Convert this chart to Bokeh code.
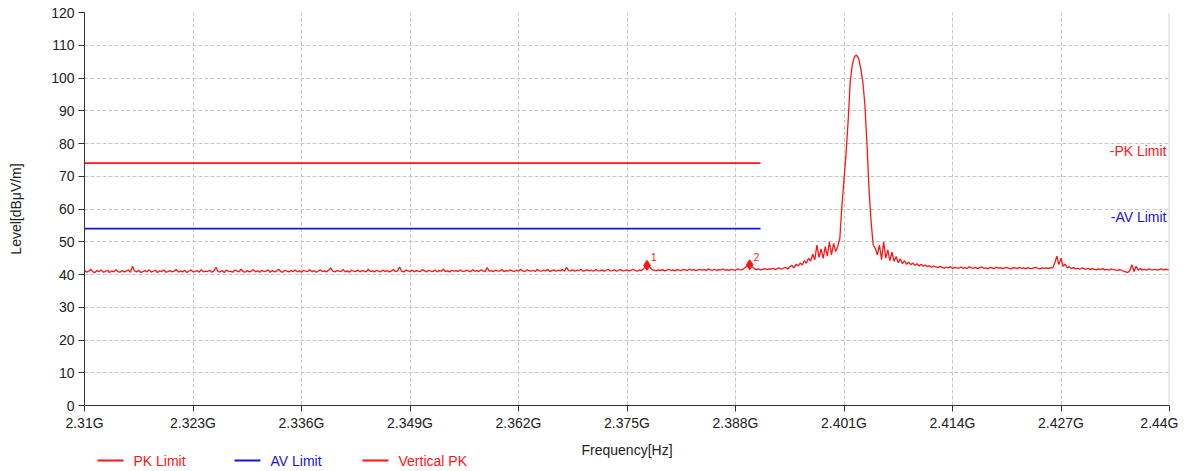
import numpy as np
from bokeh.plotting import figure
from bokeh.layouts import column
from bokeh.models import (FixedTicker, Span, Label, CustomJSTickFormatter, Range1d)
from bokeh.core.properties import value
from bokeh.embed import file_html
from bokeh.resources import INLINE

# ---------------- data ----------------
freq_start = 2.31
freq_stop = 2.44

# Vertical PK trace (dBuV/m), 0.25 MHz steps
levels = [
    41.3, 40.7, 41.0, 41.6, 40.8, 40.6, 41.2, 40.9, 41.4, 40.7, 40.9, 41.3, 40.6, 41.1, 40.8, 41.5, 40.9, 40.7, 41.2, 40.8,
    41.0, 41.4, 40.7, 42.5, 41.1, 40.8, 41.3, 40.6, 40.9, 41.2, 40.8, 41.5, 40.7, 41.0, 41.3, 40.6, 41.1, 40.9, 41.4, 40.7,
    40.9, 41.2, 40.8, 41.0, 41.6, 40.7, 41.1, 40.8, 41.3, 40.6, 41.0, 41.4, 40.8, 40.9, 41.2, 40.7, 41.5, 40.8, 41.0, 40.9,
    41.3, 40.7, 41.1, 42.2, 40.9, 40.8, 41.2, 40.6, 41.4, 40.9, 41.0, 40.7, 41.3, 41.1, 40.8, 41.6, 40.9, 40.7, 41.2, 40.8,
    41.0, 41.5, 40.8, 41.1, 40.7, 41.3, 40.9, 41.0, 41.4, 40.7, 41.2, 40.8, 41.0, 41.6, 40.9, 40.7, 41.3, 41.0, 40.8, 41.2,
    40.9, 41.4, 40.8, 41.1, 40.7, 41.3, 41.0, 40.9, 41.5, 40.8, 41.2, 40.7, 41.0, 41.4, 40.9, 41.1, 40.8, 41.3, 42.0, 41.0,
    40.8, 41.2, 41.0, 40.9, 41.5, 40.8, 41.1, 40.7, 41.3, 41.0, 40.9, 41.4, 40.8, 41.2, 41.0, 40.8, 41.6, 40.9, 41.1, 40.8,
    41.3, 41.0, 40.8, 41.4, 40.9, 41.2, 40.8, 41.0, 41.5, 40.9, 41.1, 42.3, 41.0, 40.8, 41.3, 41.1, 40.9, 41.4, 40.8, 41.2,
    41.0, 40.9, 41.5, 41.1, 40.8, 41.3, 41.0, 40.9, 41.4, 40.8, 41.2, 41.0, 41.6, 40.9, 41.1, 40.8, 41.3, 41.0, 41.2, 40.9,
    41.4, 41.0, 40.9, 41.3, 41.1, 40.8, 41.5, 41.0, 41.2, 40.9, 41.4, 41.1, 40.9, 42.1, 41.0, 41.2, 40.9, 41.3, 41.1, 41.0,
    41.5, 40.9, 41.2, 41.0, 41.4, 41.1, 40.9, 41.3, 41.0, 41.6, 41.1, 40.9, 41.4, 41.2, 41.0, 41.3, 40.9, 41.5, 41.1, 41.0,
    41.3, 41.1, 41.6, 40.9, 41.2, 41.4, 41.0, 41.3, 41.1, 41.5, 41.0, 42.2, 41.2, 41.1, 41.4, 41.0, 41.3, 41.2, 41.6, 41.0,
    41.2, 41.4, 41.1, 41.3, 41.0, 41.5, 41.2, 41.1, 41.4, 41.0, 41.3, 41.6, 41.1, 41.2, 41.4, 41.0, 41.3, 41.5, 41.1, 41.2,
    41.4, 41.1, 41.3, 41.6, 41.2, 41.0, 41.4, 41.2, 41.8, 42.3, 42.8, 42.2, 41.5, 41.3, 41.1, 41.4, 41.2, 41.5, 41.1, 41.3,
    41.6, 41.2, 41.4, 41.1, 41.5, 41.3, 41.2, 41.6, 41.4, 41.2, 41.7, 41.3, 41.5, 41.2, 41.4, 41.6, 41.3, 41.5, 41.2, 41.7,
    41.4, 41.3, 41.6, 41.2, 41.5, 41.4, 41.7, 41.3, 41.5, 41.2, 41.6, 41.4, 41.3, 41.7, 41.5, 41.4, 41.8, 42.3, 42.8, 43.0,
    42.4, 41.8, 41.5, 41.7, 41.4, 41.6, 41.8, 41.5, 41.7, 41.6, 41.9, 41.5, 41.8, 42.0, 41.6, 41.9, 42.2, 41.7, 42.3, 42.8,
    42.0, 43.1, 42.6, 43.5, 42.9, 44.2, 43.4, 45.0, 44.1, 46.2, 44.5, 49.0, 45.2, 47.8, 44.9, 48.5, 45.6, 50.0, 46.0, 49.5,
    47.0, 48.5, 51.0, 61.0, 69.0, 77.0, 87.0, 99.0, 104.0, 106.5, 107.0, 106.0, 103.0, 99.0, 92.0, 80.0, 66.0, 56.0, 49.0, 48.0,
    46.0, 49.0, 44.5, 50.0, 45.0, 47.5, 44.2, 46.8, 44.0, 45.5, 43.6, 44.8, 43.3, 44.2, 43.1, 43.8, 43.0, 43.5, 42.8, 43.3,
    42.6, 43.1, 42.5, 42.9, 42.4, 42.7, 42.2, 42.6, 42.3, 42.1, 42.5, 42.2, 41.9, 42.3, 42.0, 42.4, 41.8, 42.2, 42.0, 41.9,
    42.3, 41.9, 42.1, 41.8, 42.4, 42.0, 41.9, 42.2, 41.8, 42.1, 42.3, 41.9, 42.0, 41.7, 42.2, 42.0, 41.8, 42.3, 41.9, 42.1,
    41.8, 42.0, 42.2, 41.9, 41.7, 42.1, 42.0, 41.8, 42.2, 41.9, 42.0, 41.7, 42.1, 41.9, 41.8, 42.0, 42.2, 41.9, 41.7, 42.0,
    41.9, 42.0, 41.8, 42.1, 42.0, 43.5, 45.6, 43.0, 45.0, 42.5, 43.2, 42.0, 42.4, 41.8, 42.1, 41.7, 41.9, 41.6, 42.0, 41.8,
    41.6, 41.9, 41.5, 41.8, 41.6, 41.4, 41.7, 41.5, 41.8, 41.4, 41.6, 41.3, 41.7, 41.5, 41.4, 41.2, 41.5, 41.3, 41.0, 40.8,
    40.6, 41.2, 43.0, 40.9, 42.5, 41.3, 41.8, 41.4, 41.6, 41.3, 41.7, 41.5, 41.4, 41.6, 41.3, 41.5, 41.7, 41.4, 41.6, 41.5,
    41.4,
]
freqs = np.linspace(freq_start, freq_stop, len(levels))

limit_freqs = [2.31, 2.391]
pk_limit = [74, 74]
av_limit = [54, 54]

marker_freqs = [2.3774, 2.3897]
marker_levels = [42.8, 43.0]
marker_names = ["1", "2"]

x_ticks = [2.31, 2.323, 2.336, 2.349, 2.362, 2.375, 2.388, 2.401, 2.414, 2.427, 2.44]
y_ticks = list(range(0, 121, 10))

legend_names = ["PK Limit", "AV Limit", "Vertical PK"]

RED = "#ff1414"
BLUE = "#1414e6"
FONT = "Liberation Sans"
TXT = "#222222"

# ---------------- layout constants ----------------
W = 1178
LEFT = 84
FRAME_W = 1085
RIGHT = W - LEFT - FRAME_W
TOP = 12
FRAME_H = 393
BOTTOM = 29
STRIP_H = 33

# ---------------- main figure ----------------
p = figure(frame_width=FRAME_W, frame_height=FRAME_H,
           x_range=(freq_start, freq_stop), y_range=(0, 120),
           output_backend="svg", toolbar_location=None,
           min_border_left=LEFT, min_border_right=RIGHT,
           min_border_top=TOP, min_border_bottom=BOTTOM)
p.outline_line_color = None
p.background_fill_color = "white"

for ax in (p.xaxis[0], p.yaxis[0]):
    ax.axis_line_color = "#333333"
    ax.major_tick_line_color = "#333333"
    ax.major_tick_out = 6
    ax.major_tick_in = 0
    ax.minor_tick_line_color = None
    ax.major_label_text_font = FONT
    ax.major_label_text_font_size = "14px"
    ax.major_label_text_color = TXT
    ax.axis_label_text_font = FONT
    ax.axis_label_text_font_size = "14px"
    ax.axis_label_text_font_style = "normal"
    ax.axis_label_text_color = TXT

p.xaxis.ticker = FixedTicker(ticks=x_ticks)
p.xaxis.formatter = CustomJSTickFormatter(
    code="return tick.toFixed(3).replace(/0+$/, '') + 'G';")
p.xaxis.major_label_standoff = 3

p.yaxis.ticker = FixedTicker(ticks=y_ticks)
p.yaxis.axis_label = "Level[dBμV/m]"
p.yaxis.major_label_standoff = 4
p.yaxis.axis_label_standoff = 24

p.xgrid.ticker = FixedTicker(ticks=x_ticks)
p.ygrid.ticker = FixedTicker(ticks=y_ticks)
for g in (p.xgrid[0], p.ygrid[0]):
    g.grid_line_color = "#c8c8c8"
    g.grid_line_dash = "4 2"
    g.grid_line_width = 1

p.add_layout(Span(location=freq_stop, dimension="height",
                  line_color="#d4d4d4", line_width=2))

p.line(limit_freqs, pk_limit, line_color=RED, line_width=1.6)
p.line(limit_freqs, av_limit, line_color=BLUE, line_width=1.6)
p.line(freqs, levels, line_color=RED, line_width=1.3)

p.scatter(marker_freqs, marker_levels, marker="diamond", size=10,
          fill_color=RED, line_color=RED)
p.text(marker_freqs, marker_levels, text=marker_names,
       x_offset=4, y_offset=-8, text_color=RED, text_font=value(FONT),
       text_font_size="10px", text_baseline="middle", text_align="left")

p.add_layout(Label(x=freq_stop, y=77.7, x_offset=-3, text="-PK Limit",
                   text_color=RED, text_font=FONT, text_font_size="14px",
                   text_align="right", text_baseline="middle"))
p.add_layout(Label(x=freq_stop, y=57.7, x_offset=-3, text="-AV Limit",
                   text_color=BLUE, text_font=FONT, text_font_size="14px",
                   text_align="right", text_baseline="middle"))

# ---------------- bottom strip: x-axis title + legend ----------------
# strip frame is aligned with the main frame; x in pixels from the frame's left edge
lf = figure(frame_width=FRAME_W, frame_height=STRIP_H,
            x_range=Range1d(0, FRAME_W), y_range=Range1d(0, STRIP_H),
            output_backend="svg", toolbar_location=None,
            x_axis_location=None, y_axis_location=None,
            min_border_left=LEFT, min_border_right=RIGHT,
            min_border_top=0, min_border_bottom=0)
lf.grid.visible = False
lf.outline_line_color = None

lf.text([FRAME_W / 2], [18], text=["Frequency[Hz]"], text_font=value(FONT),
        text_font_size="14px", text_color=TXT, text_align="center",
        text_baseline="middle")

legend_colors = [RED, BLUE, RED]
legend_widths = [2, 2, 2]
legend_x = [13, 150, 278]
legend_y = [7, 7, 7]
lf.segment(x0=legend_x, y0=legend_y, x1=[x + 26 for x in legend_x], y1=legend_y,
           line_color=legend_colors, line_width=legend_widths)
lf.text([x + 36 for x in legend_x], legend_y, text=legend_names,
        text_color=legend_colors, text_font=value(FONT), text_font_size="14px",
        text_align="left", text_baseline="middle")

layout = column(p, lf, spacing=0)
open("out.html", "w").write(file_html(layout, INLINE))
